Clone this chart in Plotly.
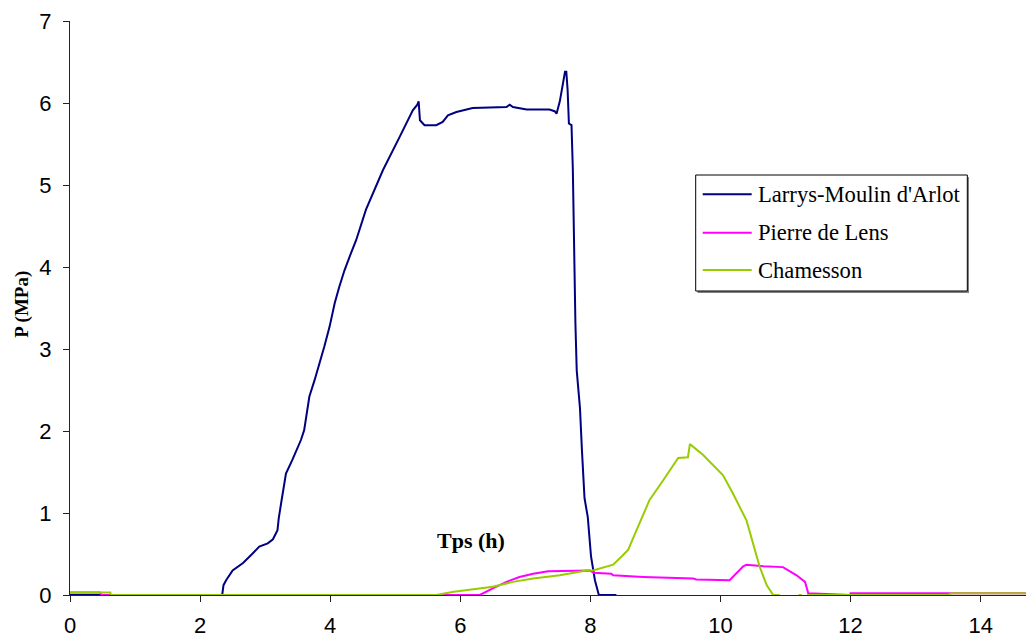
import plotly.graph_objects as go

# ---- data ----
larrys_x = [0, 2.34, 2.36, 2.40, 2.50, 2.66, 2.80, 2.91, 3.04, 3.12, 3.19, 3.21, 3.25, 3.32, 3.42,
            3.55, 3.60, 3.68, 3.76, 3.84, 3.91, 3.99, 4.07, 4.14, 4.22, 4.32, 4.40, 4.55, 4.81,
            5.07, 5.27, 5.34, 5.36, 5.38, 5.45, 5.63, 5.73, 5.81, 5.94, 6.19, 6.71, 6.76, 6.81,
            7.02, 7.37, 7.45, 7.48, 7.53, 7.56, 7.61, 7.63, 7.65, 7.67, 7.71, 7.73, 7.74, 7.77,
            7.79, 7.84, 7.87, 7.89, 7.91, 7.96, 7.99, 8.01, 8.07, 8.13, 8.40]
larrys_y = [0, 0, 0.12, 0.18, 0.30, 0.39, 0.50, 0.59, 0.63, 0.68, 0.79, 0.94, 1.14, 1.48, 1.65,
            1.89, 2.01, 2.42, 2.62, 2.83, 3.03, 3.27, 3.56, 3.76, 3.96, 4.17, 4.33, 4.70, 5.18,
            5.59, 5.91, 5.98, 6.02, 5.79, 5.73, 5.73, 5.77, 5.85, 5.89, 5.94, 5.95, 5.98, 5.95,
            5.92, 5.92, 5.90, 5.87, 6.02, 6.16, 6.38, 6.38, 6.16, 5.75, 5.73, 5.20, 4.65, 3.31,
            2.74, 2.28, 1.77, 1.48, 1.18, 0.95, 0.71, 0.47, 0.18, 0, 0]

pierre_x = [0, 0.46, 0.48, 6.30, 6.50, 6.71, 6.91, 7.12, 7.35, 7.99, 8.05, 8.32, 8.35, 8.76,
            8.81, 9.58, 9.63, 10.14, 10.25, 10.35, 10.40, 10.66, 10.96, 11.17, 11.30, 11.35,
            11.99, 12.00, 14.82]
pierre_y = [0.03, 0.03, 0, 0, 0.08, 0.16, 0.22, 0.26, 0.29, 0.30, 0.27, 0.26, 0.24, 0.23,
            0.22, 0.20, 0.19, 0.18, 0.27, 0.35, 0.37, 0.35, 0.34, 0.24, 0.16, 0.02,
            0, 0.02, 0.02]

chamesson_x = [0, 0.62, 0.63, 5.63, 5.90, 6.19, 6.50, 6.81, 7.12, 7.53, 7.94, 8.04, 8.27, 8.35,
               8.48, 8.58, 8.71, 8.91, 9.12, 9.35, 9.50, 9.53, 9.73, 10.04, 10.19, 10.32,
               10.40, 10.50, 10.60, 10.71, 10.81, 10.91, None, 11.20, 11.25, None, 11.33,
               13.50, 13.55, 14.82]
chamesson_y = [0.03, 0.03, 0, 0, 0.04, 0.07, 0.10, 0.16, 0.20, 0.24, 0.30, 0.30, 0.35, 0.37,
               0.47, 0.55, 0.79, 1.16, 1.40, 1.67, 1.68, 1.84, 1.71, 1.46, 1.24, 1.04,
               0.91, 0.63, 0.35, 0.12, 0, 0, None, 0, 0, None, 0,
               0, 0.02, 0.02]

series_names = ["Larrys-Moulin d'Arlot", "Pierre de Lens", "Chamesson"]
series_colors = ["#000080", "#FF00FF", "#99CC00"]

x_ticks = [0, 2, 4, 6, 8, 10, 12, 14]
y_ticks = [0, 1, 2, 3, 4, 5, 6, 7]

SERIF = "Liberation Serif, Times New Roman, serif"
SANS = "Liberation Sans, Arial, sans-serif"

fig = go.Figure()
for xs, ys, nm, col in zip([larrys_x, pierre_x, chamesson_x],
                           [larrys_y, pierre_y, chamesson_y],
                           series_names, series_colors):
    fig.add_trace(go.Scatter(x=xs, y=ys, mode="lines", name=nm,
                             line=dict(color=col, width=2), connectgaps=False,
                             showlegend=False))

axis_common = dict(showgrid=False, zeroline=False, showline=True, linecolor="#222222",
                   linewidth=1, ticks="outside", ticklen=6, tickcolor="#222222",
                   automargin=False,
                   tickfont=dict(family=SANS, size=22, color="black"))

fig.update_xaxes(range=[0, 14.82], tickvals=x_ticks, ticklabelstandoff=5, **axis_common)
fig.update_yaxes(range=[0, 7], tickvals=y_ticks, ticklabelstandoff=7, **axis_common)

# ---- legend box drawn in paper coordinates (plot area in window: 70..1034 x 21..595 px) ----
def px(xp):
    return (xp - 70) / 964.0

def py(yp):
    return (595 - yp) / 574.0

shapes = [
    dict(type="rect", xref="paper", yref="paper", x0=px(697.5), x1=px(969), y0=py(293),
         y1=py(177), fillcolor="#808080", line=dict(width=0), layer="above"),
    dict(type="rect", xref="paper", yref="paper", x0=px(695.7), x1=px(967.3), y0=py(291),
         y1=py(175), fillcolor="white", line=dict(color="black", width=1), layer="above"),
]
annotations = []
rows = [194.3, 232.7, 270.0]
for nm, col, ry in zip(series_names, series_colors, rows):
    shapes.append(dict(type="line", xref="paper", yref="paper", x0=px(702.7), x1=px(751.7),
                       y0=py(ry), y1=py(ry), line=dict(color=col, width=2), layer="above"))
    annotations.append(dict(text=nm, x=px(756), y=py(ry), xref="paper", yref="paper",
                            xanchor="left", yanchor="middle", showarrow=False,
                            font=dict(family=SERIF, size=22.6, color="black")))

annotations += [
    dict(text="<b>Tps (h)</b>", x=6.16, y=0.67, xref="x", yref="y", showarrow=False,
         xanchor="center", yanchor="middle",
         font=dict(family=SERIF, size=22, color="black")),
    dict(text="<b>P (MPa)</b>", x=px(21.7), y=py(304), xref="paper", yref="paper",
         showarrow=False, textangle=-90, xanchor="center", yanchor="middle",
         font=dict(family=SERIF, size=19, color="black")),
]

# The page body has an 8px default margin, so the figure is sized/offset to
# place the plot area at 70..1034 x 21..595 in the 1034x635 window.
fig.update_layout(
    width=1026, height=627,
    margin=dict(l=62, r=0, t=13, b=40),
    plot_bgcolor="white", paper_bgcolor="white",
    showlegend=False,
    shapes=shapes,
    annotations=annotations,
)

fig.write_html("out.html")
